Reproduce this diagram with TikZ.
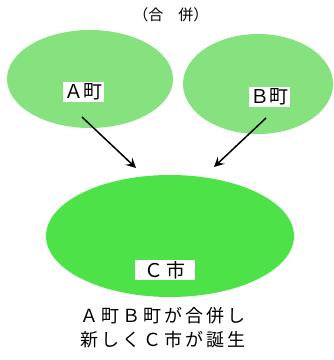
\documentclass[tikz,border=0pt]{standalone}
\usepackage{fontspec}
\newfontfamily\jp{Noto Sans CJK JP}
\newfontfamily\jpsp{Noto Sans CJK JP}[LetterSpace=16]
\usetikzlibrary{arrows.meta}
\definecolor{lightg}{RGB}{134,226,126}
\definecolor{brightg}{RGB}{76,226,72}
\tikzset{
  town/.style={ellipse, fill=lightg, inner sep=0pt},
  lbl/.style={fill=white, inner sep=1.5pt, font=\jp\fontsize{19}{20}\selectfont},
  arr/.style={line width=1.5pt, -{Stealth[length=10pt,width=10pt,inset=4pt]}},
}
\begin{document}
\begin{tikzpicture}[x=1pt,y=-1pt]
\useasboundingbox (0,0) rectangle (334,360);
\node (title) at (171,15) {\jp\fontsize{15}{16}\selectfont （合　併）};
\fill[lightg] (90,79) ellipse [x radius=83, y radius=49];
\fill[lightg] (258,84) ellipse [x radius=75, y radius=50];
\fill[brightg] (170,236) ellipse [x radius=124, y radius=61];
\node[lbl] (la) at (84,92) {Ａ町};
\node[lbl] (lb) at (270,97) {Ｂ町};
\node[lbl, minimum width=60pt] (lc) at (165,270) {Ｃ\,市};
\coordinate (a1) at (82,117);
\coordinate (a2) at (136,168);
\coordinate (b1) at (266,118);
\coordinate (b2) at (214,167);
\draw[arr] (a1) -- (a2);
\draw[arr] (b1) -- (b2);
\node[align=center, inner sep=0pt, font=\jpsp\fontsize{18}{24}\selectfont] (cap) at (163,328) {Ａ町Ｂ町が合併し\\新しくＣ市が誕生};
\end{tikzpicture}
\end{document}
